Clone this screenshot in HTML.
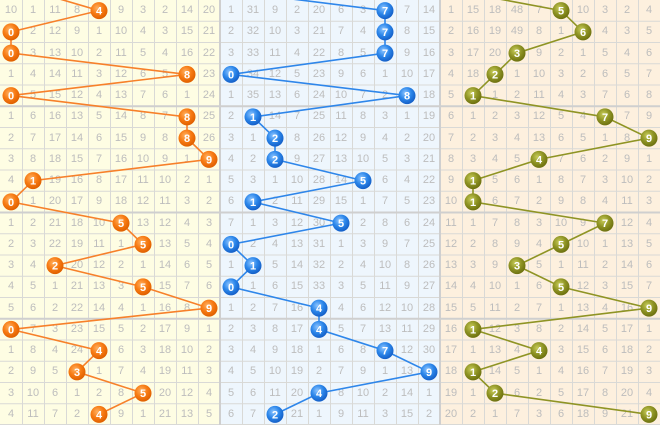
<!DOCTYPE html>
<html><head><meta charset="utf-8"><style>
html,body{margin:0;padding:0;}
body{width:660px;height:425px;position:relative;overflow:hidden;background:#fff;font-family:"Liberation Sans",sans-serif;}
.bg{position:absolute;top:0;height:425px;width:220px;}
table{position:absolute;top:0;border-collapse:collapse;border-spacing:0;table-layout:fixed;width:220px;}
td{width:22px;height:21.25px;padding:0;text-align:center;vertical-align:middle;font-size:11px;color:#bdbdbd;line-height:21.25px;}
tr{height:21.25px;}
svg{position:absolute;left:0;top:0;}
</style></head><body>
<div class="bg" style="left:0;background:#fefde3"></div>
<div class="bg" style="left:220px;background:#eef6fd"></div>
<div class="bg" style="left:440px;background:#fdf0de"></div>
<svg width="660" height="425">
<g stroke="#d9d9d6" stroke-width="1">
<path d="M22.5 0V425M44.5 0V425M66.5 0V425M88.5 0V425M110.5 0V425M132.5 0V425M154.5 0V425M176.5 0V425M198.5 0V425M242.5 0V425M264.5 0V425M286.5 0V425M308.5 0V425M330.5 0V425M352.5 0V425M374.5 0V425M396.5 0V425M418.5 0V425M462.5 0V425M484.5 0V425M506.5 0V425M528.5 0V425M550.5 0V425M572.5 0V425M594.5 0V425M616.5 0V425M638.5 0V425"/>
<path d="M0 21.25H660M0 42.5H660M0 63.75H660M0 85H660M0 127.5H660M0 148.75H660M0 170H660M0 191.25H660M0 233.75H660M0 255H660M0 276.25H660M0 297.5H660M0 340H660M0 361.25H660M0 382.5H660M0 403.75H660M0 424.5H660"/>
</g>
<g stroke="#cfcfcf" stroke-width="2">
<path d="M0 106.25H660M0 212.5H660M0 318.75H660M220 0V425M440 0V425"/>
</g>
</svg>
<table style="left:0">
<tr><td>10</td><td>1</td><td>11</td><td>8</td><td></td><td>9</td><td>3</td><td>2</td><td>14</td><td>20</td></tr>
<tr><td></td><td>2</td><td>12</td><td>9</td><td>1</td><td>10</td><td>4</td><td>3</td><td>15</td><td>21</td></tr>
<tr><td></td><td>3</td><td>13</td><td>10</td><td>2</td><td>11</td><td>5</td><td>4</td><td>16</td><td>22</td></tr>
<tr><td>1</td><td>4</td><td>14</td><td>11</td><td>3</td><td>12</td><td>6</td><td>5</td><td></td><td>23</td></tr>
<tr><td></td><td>5</td><td>15</td><td>12</td><td>4</td><td>13</td><td>7</td><td>6</td><td>1</td><td>24</td></tr>
<tr><td>1</td><td>6</td><td>16</td><td>13</td><td>5</td><td>14</td><td>8</td><td>7</td><td></td><td>25</td></tr>
<tr><td>2</td><td>7</td><td>17</td><td>14</td><td>6</td><td>15</td><td>9</td><td>8</td><td></td><td>26</td></tr>
<tr><td>3</td><td>8</td><td>18</td><td>15</td><td>7</td><td>16</td><td>10</td><td>9</td><td>1</td><td></td></tr>
<tr><td>4</td><td></td><td>19</td><td>16</td><td>8</td><td>17</td><td>11</td><td>10</td><td>2</td><td>1</td></tr>
<tr><td></td><td>1</td><td>20</td><td>17</td><td>9</td><td>18</td><td>12</td><td>11</td><td>3</td><td>2</td></tr>
<tr><td>1</td><td>2</td><td>21</td><td>18</td><td>10</td><td></td><td>13</td><td>12</td><td>4</td><td>3</td></tr>
<tr><td>2</td><td>3</td><td>22</td><td>19</td><td>11</td><td>1</td><td></td><td>13</td><td>5</td><td>4</td></tr>
<tr><td>3</td><td>4</td><td></td><td>20</td><td>12</td><td>2</td><td>1</td><td>14</td><td>6</td><td>5</td></tr>
<tr><td>4</td><td>5</td><td>1</td><td>21</td><td>13</td><td>3</td><td></td><td>15</td><td>7</td><td>6</td></tr>
<tr><td>5</td><td>6</td><td>2</td><td>22</td><td>14</td><td>4</td><td>1</td><td>16</td><td>8</td><td></td></tr>
<tr><td></td><td>7</td><td>3</td><td>23</td><td>15</td><td>5</td><td>2</td><td>17</td><td>9</td><td>1</td></tr>
<tr><td>1</td><td>8</td><td>4</td><td>24</td><td></td><td>6</td><td>3</td><td>18</td><td>10</td><td>2</td></tr>
<tr><td>2</td><td>9</td><td>5</td><td></td><td>1</td><td>7</td><td>4</td><td>19</td><td>11</td><td>3</td></tr>
<tr><td>3</td><td>10</td><td>6</td><td>1</td><td>2</td><td>8</td><td></td><td>20</td><td>12</td><td>4</td></tr>
<tr><td>4</td><td>11</td><td>7</td><td>2</td><td></td><td>9</td><td>1</td><td>21</td><td>13</td><td>5</td></tr>
</table>
<table style="left:220px">
<tr><td>1</td><td>31</td><td>9</td><td>2</td><td>20</td><td>6</td><td>3</td><td></td><td>7</td><td>14</td></tr>
<tr><td>2</td><td>32</td><td>10</td><td>3</td><td>21</td><td>7</td><td>4</td><td></td><td>8</td><td>15</td></tr>
<tr><td>3</td><td>33</td><td>11</td><td>4</td><td>22</td><td>8</td><td>5</td><td></td><td>9</td><td>16</td></tr>
<tr><td></td><td>34</td><td>12</td><td>5</td><td>23</td><td>9</td><td>6</td><td>1</td><td>10</td><td>17</td></tr>
<tr><td>1</td><td>35</td><td>13</td><td>6</td><td>24</td><td>10</td><td>7</td><td>2</td><td></td><td>18</td></tr>
<tr><td>2</td><td></td><td>14</td><td>7</td><td>25</td><td>11</td><td>8</td><td>3</td><td>1</td><td>19</td></tr>
<tr><td>3</td><td>1</td><td></td><td>8</td><td>26</td><td>12</td><td>9</td><td>4</td><td>2</td><td>20</td></tr>
<tr><td>4</td><td>2</td><td></td><td>9</td><td>27</td><td>13</td><td>10</td><td>5</td><td>3</td><td>21</td></tr>
<tr><td>5</td><td>3</td><td>1</td><td>10</td><td>28</td><td>14</td><td></td><td>6</td><td>4</td><td>22</td></tr>
<tr><td>6</td><td></td><td>2</td><td>11</td><td>29</td><td>15</td><td>1</td><td>7</td><td>5</td><td>23</td></tr>
<tr><td>7</td><td>1</td><td>3</td><td>12</td><td>30</td><td></td><td>2</td><td>8</td><td>6</td><td>24</td></tr>
<tr><td></td><td>2</td><td>4</td><td>13</td><td>31</td><td>1</td><td>3</td><td>9</td><td>7</td><td>25</td></tr>
<tr><td>1</td><td></td><td>5</td><td>14</td><td>32</td><td>2</td><td>4</td><td>10</td><td>8</td><td>26</td></tr>
<tr><td></td><td>1</td><td>6</td><td>15</td><td>33</td><td>3</td><td>5</td><td>11</td><td>9</td><td>27</td></tr>
<tr><td>1</td><td>2</td><td>7</td><td>16</td><td></td><td>4</td><td>6</td><td>12</td><td>10</td><td>28</td></tr>
<tr><td>2</td><td>3</td><td>8</td><td>17</td><td></td><td>5</td><td>7</td><td>13</td><td>11</td><td>29</td></tr>
<tr><td>3</td><td>4</td><td>9</td><td>18</td><td>1</td><td>6</td><td>8</td><td></td><td>12</td><td>30</td></tr>
<tr><td>4</td><td>5</td><td>10</td><td>19</td><td>2</td><td>7</td><td>9</td><td>1</td><td>13</td><td></td></tr>
<tr><td>5</td><td>6</td><td>11</td><td>20</td><td></td><td>8</td><td>10</td><td>2</td><td>14</td><td>1</td></tr>
<tr><td>6</td><td>7</td><td></td><td>21</td><td>1</td><td>9</td><td>11</td><td>3</td><td>15</td><td>2</td></tr>
</table>
<table style="left:440px">
<tr><td>1</td><td>15</td><td>18</td><td>48</td><td>7</td><td></td><td>10</td><td>3</td><td>2</td><td>4</td></tr>
<tr><td>2</td><td>16</td><td>19</td><td>49</td><td>8</td><td>1</td><td></td><td>4</td><td>3</td><td>5</td></tr>
<tr><td>3</td><td>17</td><td>20</td><td></td><td>9</td><td>2</td><td>1</td><td>5</td><td>4</td><td>6</td></tr>
<tr><td>4</td><td>18</td><td></td><td>1</td><td>10</td><td>3</td><td>2</td><td>6</td><td>5</td><td>7</td></tr>
<tr><td>5</td><td></td><td>1</td><td>2</td><td>11</td><td>4</td><td>3</td><td>7</td><td>6</td><td>8</td></tr>
<tr><td>6</td><td>1</td><td>2</td><td>3</td><td>12</td><td>5</td><td>4</td><td></td><td>7</td><td>9</td></tr>
<tr><td>7</td><td>2</td><td>3</td><td>4</td><td>13</td><td>6</td><td>5</td><td>1</td><td>8</td><td></td></tr>
<tr><td>8</td><td>3</td><td>4</td><td>5</td><td></td><td>7</td><td>6</td><td>2</td><td>9</td><td>1</td></tr>
<tr><td>9</td><td></td><td>5</td><td>6</td><td>1</td><td>8</td><td>7</td><td>3</td><td>10</td><td>2</td></tr>
<tr><td>10</td><td></td><td>6</td><td>7</td><td>2</td><td>9</td><td>8</td><td>4</td><td>11</td><td>3</td></tr>
<tr><td>11</td><td>1</td><td>7</td><td>8</td><td>3</td><td>10</td><td>9</td><td></td><td>12</td><td>4</td></tr>
<tr><td>12</td><td>2</td><td>8</td><td>9</td><td>4</td><td></td><td>10</td><td>1</td><td>13</td><td>5</td></tr>
<tr><td>13</td><td>3</td><td>9</td><td></td><td>5</td><td>1</td><td>11</td><td>2</td><td>14</td><td>6</td></tr>
<tr><td>14</td><td>4</td><td>10</td><td>1</td><td>6</td><td></td><td>12</td><td>3</td><td>15</td><td>7</td></tr>
<tr><td>15</td><td>5</td><td>11</td><td>2</td><td>7</td><td>1</td><td>13</td><td>4</td><td>16</td><td></td></tr>
<tr><td>16</td><td></td><td>12</td><td>3</td><td>8</td><td>2</td><td>14</td><td>5</td><td>17</td><td>1</td></tr>
<tr><td>17</td><td>1</td><td>13</td><td>4</td><td></td><td>3</td><td>15</td><td>6</td><td>18</td><td>2</td></tr>
<tr><td>18</td><td></td><td>14</td><td>5</td><td>1</td><td>4</td><td>16</td><td>7</td><td>19</td><td>3</td></tr>
<tr><td>19</td><td>1</td><td></td><td>6</td><td>2</td><td>5</td><td>17</td><td>8</td><td>20</td><td>4</td></tr>
<tr><td>20</td><td>2</td><td>1</td><td>7</td><td>3</td><td>6</td><td>18</td><td>9</td><td>21</td><td></td></tr>
</table>
<svg width="660" height="425" style="font-family:'Liberation Sans',sans-serif">
<defs>
<radialGradient id="go" cx="40%" cy="35%" r="65%"><stop offset="0" stop-color="#ffb060"/><stop offset="0.55" stop-color="#f77a12"/><stop offset="1" stop-color="#e06000"/></radialGradient>
<radialGradient id="gb" cx="40%" cy="35%" r="65%"><stop offset="0" stop-color="#8cc4ff"/><stop offset="0.55" stop-color="#2b86ea"/><stop offset="1" stop-color="#1560c8"/></radialGradient>
<radialGradient id="gp" cx="40%" cy="35%" r="65%"><stop offset="0" stop-color="#c8cc5a"/><stop offset="0.55" stop-color="#8f9424"/><stop offset="1" stop-color="#6e7210"/></radialGradient>
</defs>
<g fill="none" stroke-width="1.6">
<polyline stroke="#f7802a" points="27,-10.6 99,10.6 11,31.9 11,53.1 187,74.4 11,95.6 187,116.9 187,138.1 209,159.4 33,180.6 11,201.9 121,223.1 143,244.4 55,265.6 143,286.9 209,308.1 11,329.4 99,350.6 77,371.9 143,393.1 99,414.4"/>
<polyline stroke="#2e86ea" points="215,-10.6 385,10.6 385,31.9 385,53.1 231,74.4 407,95.6 253,116.9 275,138.1 275,159.4 363,180.6 253,201.9 341,223.1 231,244.4 253,265.6 231,286.9 319,308.1 319,329.4 385,350.6 429,371.9 319,393.1 275,414.4"/>
<polyline stroke="#8f9424" points="448,-10.6 561,10.6 583,31.9 517,53.1 495,74.4 473,95.6 605,116.9 649,138.1 539,159.4 473,180.6 473,201.9 605,223.1 561,244.4 517,265.6 561,286.9 649,308.1 473,329.4 539,350.6 473,371.9 495,393.1 649,414.4"/>
</g>
<g fill="url(#go)"><circle cx="99" cy="10.6" r="8.5"/><circle cx="11" cy="31.9" r="8.5"/><circle cx="11" cy="53.1" r="8.5"/><circle cx="187" cy="74.4" r="8.5"/><circle cx="11" cy="95.6" r="8.5"/><circle cx="187" cy="116.9" r="8.5"/><circle cx="187" cy="138.1" r="8.5"/><circle cx="209" cy="159.4" r="8.5"/><circle cx="33" cy="180.6" r="8.5"/><circle cx="11" cy="201.9" r="8.5"/><circle cx="121" cy="223.1" r="8.5"/><circle cx="143" cy="244.4" r="8.5"/><circle cx="55" cy="265.6" r="8.5"/><circle cx="143" cy="286.9" r="8.5"/><circle cx="209" cy="308.1" r="8.5"/><circle cx="11" cy="329.4" r="8.5"/><circle cx="99" cy="350.6" r="8.5"/><circle cx="77" cy="371.9" r="8.5"/><circle cx="143" cy="393.1" r="8.5"/><circle cx="99" cy="414.4" r="8.5"/></g>
<g fill="url(#gb)"><circle cx="385" cy="10.6" r="8.5"/><circle cx="385" cy="31.9" r="8.5"/><circle cx="385" cy="53.1" r="8.5"/><circle cx="231" cy="74.4" r="8.5"/><circle cx="407" cy="95.6" r="8.5"/><circle cx="253" cy="116.9" r="8.5"/><circle cx="275" cy="138.1" r="8.5"/><circle cx="275" cy="159.4" r="8.5"/><circle cx="363" cy="180.6" r="8.5"/><circle cx="253" cy="201.9" r="8.5"/><circle cx="341" cy="223.1" r="8.5"/><circle cx="231" cy="244.4" r="8.5"/><circle cx="253" cy="265.6" r="8.5"/><circle cx="231" cy="286.9" r="8.5"/><circle cx="319" cy="308.1" r="8.5"/><circle cx="319" cy="329.4" r="8.5"/><circle cx="385" cy="350.6" r="8.5"/><circle cx="429" cy="371.9" r="8.5"/><circle cx="319" cy="393.1" r="8.5"/><circle cx="275" cy="414.4" r="8.5"/></g>
<g fill="url(#gp)"><circle cx="561" cy="10.6" r="8.5"/><circle cx="583" cy="31.9" r="8.5"/><circle cx="517" cy="53.1" r="8.5"/><circle cx="495" cy="74.4" r="8.5"/><circle cx="473" cy="95.6" r="8.5"/><circle cx="605" cy="116.9" r="8.5"/><circle cx="649" cy="138.1" r="8.5"/><circle cx="539" cy="159.4" r="8.5"/><circle cx="473" cy="180.6" r="8.5"/><circle cx="473" cy="201.9" r="8.5"/><circle cx="605" cy="223.1" r="8.5"/><circle cx="561" cy="244.4" r="8.5"/><circle cx="517" cy="265.6" r="8.5"/><circle cx="561" cy="286.9" r="8.5"/><circle cx="649" cy="308.1" r="8.5"/><circle cx="473" cy="329.4" r="8.5"/><circle cx="539" cy="350.6" r="8.5"/><circle cx="473" cy="371.9" r="8.5"/><circle cx="495" cy="393.1" r="8.5"/><circle cx="649" cy="414.4" r="8.5"/></g>
<g fill="#fff" font-size="11" font-weight="bold" text-anchor="middle">
<text x="99" y="14.6">4</text><text x="11" y="35.9">0</text><text x="11" y="57.1">0</text><text x="187" y="78.4">8</text><text x="11" y="99.6">0</text><text x="187" y="120.9">8</text><text x="187" y="142.1">8</text><text x="209" y="163.4">9</text><text x="33" y="184.6">1</text><text x="11" y="205.9">0</text><text x="121" y="227.1">5</text><text x="143" y="248.4">5</text><text x="55" y="269.6">2</text><text x="143" y="290.9">5</text><text x="209" y="312.1">9</text><text x="11" y="333.4">0</text><text x="99" y="354.6">4</text><text x="77" y="375.9">3</text><text x="143" y="397.1">5</text><text x="99" y="418.4">4</text>
<text x="385" y="14.6">7</text><text x="385" y="35.9">7</text><text x="385" y="57.1">7</text><text x="231" y="78.4">0</text><text x="407" y="99.6">8</text><text x="253" y="120.9">1</text><text x="275" y="142.1">2</text><text x="275" y="163.4">2</text><text x="363" y="184.6">5</text><text x="253" y="205.9">1</text><text x="341" y="227.1">5</text><text x="231" y="248.4">0</text><text x="253" y="269.6">1</text><text x="231" y="290.9">0</text><text x="319" y="312.1">4</text><text x="319" y="333.4">4</text><text x="385" y="354.6">7</text><text x="429" y="375.9">9</text><text x="319" y="397.1">4</text><text x="275" y="418.4">2</text>
<text x="561" y="14.6">5</text><text x="583" y="35.9">6</text><text x="517" y="57.1">3</text><text x="495" y="78.4">2</text><text x="473" y="99.6">1</text><text x="605" y="120.9">7</text><text x="649" y="142.1">9</text><text x="539" y="163.4">4</text><text x="473" y="184.6">1</text><text x="473" y="205.9">1</text><text x="605" y="227.1">7</text><text x="561" y="248.4">5</text><text x="517" y="269.6">3</text><text x="561" y="290.9">5</text><text x="649" y="312.1">9</text><text x="473" y="333.4">1</text><text x="539" y="354.6">4</text><text x="473" y="375.9">1</text><text x="495" y="397.1">2</text><text x="649" y="418.4">9</text>
</g>
</svg>
</body></html>
